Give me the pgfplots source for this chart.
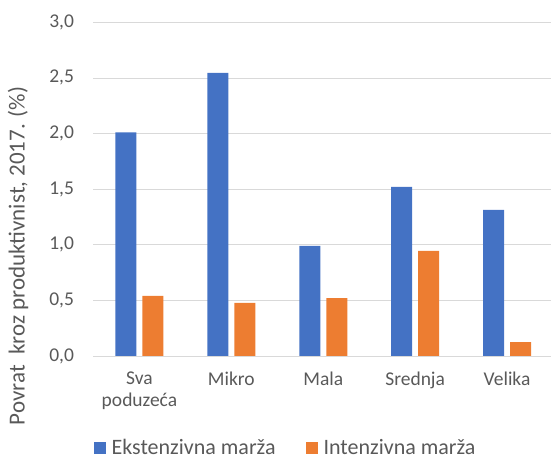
\documentclass[border=0pt]{standalone}
\usepackage{pgfplots}
\pgfplotsset{compat=1.18}
\usepackage{fontspec}
\setmainfont{Carlito}
\definecolor{cblue}{HTML}{4472C4}
\definecolor{corange}{HTML}{ED7D31}
\definecolor{gridgray}{HTML}{D9D9D9}
\definecolor{txt}{HTML}{595959}
\begin{document}
\begin{tikzpicture}
\useasboundingbox (-93.5pt,-106pt) rectangle (457.5pt,356pt);
\begin{axis}[
  scale only axis, width=459.5pt, height=333.7pt,
  ybar=6pt, bar width=21pt,
  xmin=-0.5, xmax=4.5, ymin=0, ymax=3,
  xtick={0,1,2,3,4},
  xticklabels={{Sva\\poduzeća},Mikro,Mala,Srednja,Velika},
  ytick={0,0.5,...,3},
  yticklabel={\pgfmathprintnumber[fixed,fixed zerofill,precision=1,use comma,assume math mode=true]{\tick}},
  ymajorgrids, grid style={gridgray, line width=0.8pt},
  axis x line*=bottom, axis y line*=left,
  x axis line style={gridgray, line width=0.8pt, -},
  y axis line style={draw=none},
  major tick length=0pt,
  tick label style={font=\fontsize{19.5}{22.5}\selectfont, text=txt},
  xticklabel style={align=center, yshift=-12pt},
  yticklabel style={xshift=-16pt},
  ylabel={Povrat\ \ kroz produktivnist, 2017. (\%)},
  ylabel style={font=\fontsize{23}{27}\selectfont, text=txt, at={(axis description cs:-0.1643,0.30)}, anchor=center},
  legend style={draw=none, fill=none, at={(axis description cs:0.418,-0.276)}, anchor=center,
    font=\fontsize{22}{26}\selectfont, text=txt, legend columns=2, inner sep=0pt,
    /tikz/every odd column/.append style={column sep=4pt},
    /tikz/every even column/.append style={column sep=28pt}},
  legend image code/.code={\fill[#1] (0pt,-6pt) rectangle (12pt,6pt);},
]
\addplot[fill=cblue, draw=none] coordinates {(0,2.01) (1,2.545) (2,0.99) (3,1.52) (4,1.313)};
\addplot[fill=corange, draw=none] coordinates {(0,0.54) (1,0.477) (2,0.52) (3,0.944) (4,0.125)};
\legend{Ekstenzivna marža, Intenzivna marža}
\end{axis}
\end{tikzpicture}
\end{document}
